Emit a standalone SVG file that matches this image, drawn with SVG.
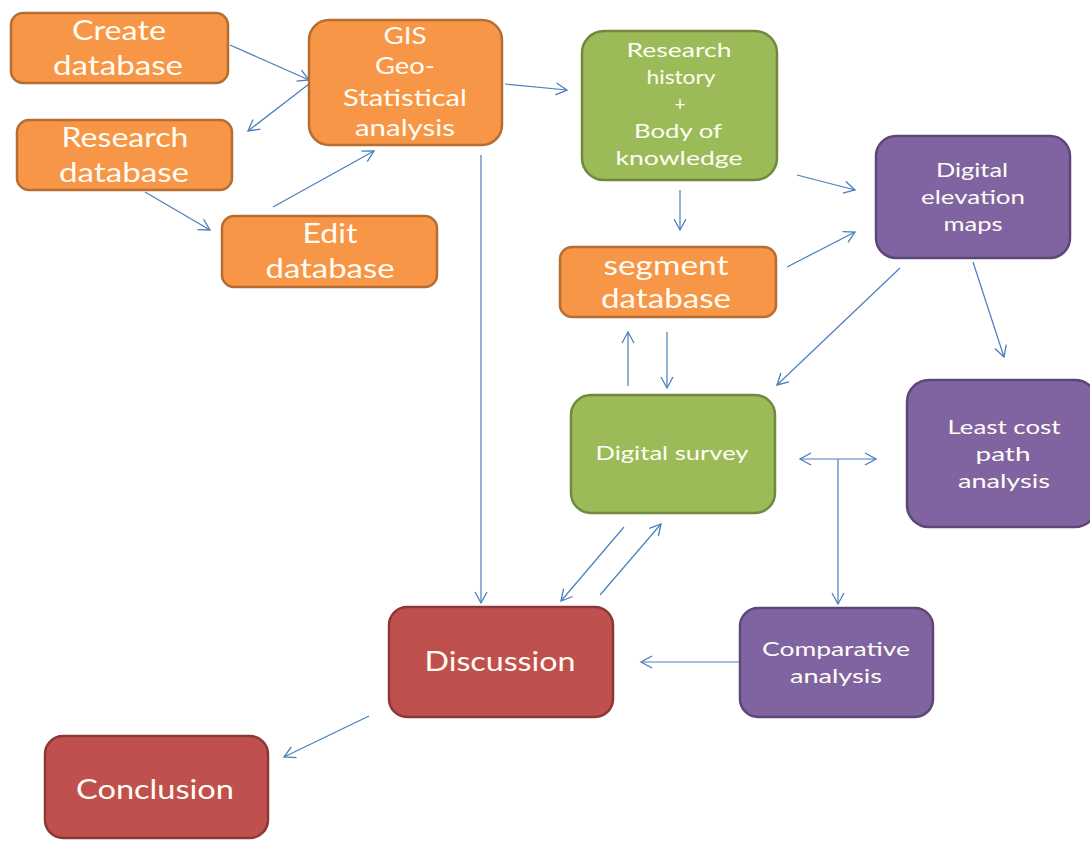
<svg xmlns="http://www.w3.org/2000/svg" width="1090" height="841" viewBox="0 0 1090 841">
<defs>
<marker id="ah" markerUnits="userSpaceOnUse" markerWidth="14" markerHeight="14" refX="12" refY="7" orient="auto-start-reverse" viewBox="0 0 14 14">
<path d="M1,1 L12,7 L1,13" fill="none" stroke="#4A7EBB" stroke-width="1.3"/>
</marker>
</defs>
<style>
.or{fill:#F79646;stroke:#B66D31;stroke-width:2.5}
.gr{fill:#9BBB59;stroke:#71893F;stroke-width:2.5}
.pu{fill:#8064A2;stroke:#5C4776;stroke-width:2.5}
.rd{fill:#C0504D;stroke:#8C3836;stroke-width:2.5}
text{font-family:Lato,"Open Sans","Liberation Sans",sans-serif;fill:#FFFDF5;text-anchor:middle}
.big{font-size:26px}
.mid{font-size:23px}
.sm{font-size:19px}
.c{fill:none;stroke:#4A7EBB;stroke-width:1.2;marker-end:url(#ah)}
</style>
<rect width="1090" height="841" fill="#fff"/>
<g id="connectors">
<line class="c" x1="230" y1="45" x2="309" y2="80"/>
<line class="c" x1="309" y1="84" x2="248" y2="131"/>
<line class="c" x1="145" y1="192" x2="210" y2="230"/>
<line class="c" x1="273" y1="207" x2="374" y2="151"/>
<line class="c" x1="505" y1="84" x2="567" y2="90"/>
<line class="c" x1="481" y1="155" x2="481" y2="603"/>
<line class="c" x1="680" y1="190" x2="680" y2="230"/>
<line class="c" x1="797" y1="175" x2="855" y2="190"/>
<line class="c" x1="787" y1="267" x2="855" y2="232"/>
<line class="c" x1="900" y1="268" x2="777" y2="385"/>
<line class="c" x1="973" y1="262" x2="1004" y2="357"/>
<line class="c" x1="628" y1="386" x2="628" y2="332"/>
<line class="c" x1="667" y1="332" x2="667" y2="388"/>
<line class="c" style="marker-start:url(#ah)" x1="800" y1="459" x2="876" y2="459"/>
<line class="c" x1="838" y1="459" x2="838" y2="604"/>
<line class="c" x1="624" y1="527" x2="561" y2="601"/>
<line class="c" x1="600" y1="595" x2="661" y2="524"/>
<line class="c" x1="740" y1="662" x2="641" y2="662"/>
<line class="c" x1="369" y1="716" x2="284" y2="757"/>
</g>
<g id="create-db"><rect class="or" x="11" y="13" width="217" height="70" rx="12"/><text class="big" x="119" y="40" textLength="94" lengthAdjust="spacingAndGlyphs">Create</text><text class="big" x="118" y="75" textLength="130" lengthAdjust="spacingAndGlyphs">database</text></g>
<g id="research-db"><rect class="or" x="17" y="120" width="215" height="70" rx="12"/><text class="big" x="125" y="147" textLength="127" lengthAdjust="spacingAndGlyphs">Research</text><text class="big" x="124" y="182" textLength="130" lengthAdjust="spacingAndGlyphs">database</text></g>
<g id="gis"><rect class="or" x="309" y="20" width="193" height="125" rx="20"/><text class="mid" x="405" y="44" textLength="43" lengthAdjust="spacingAndGlyphs">GIS</text><text class="mid" x="405" y="74" textLength="60" lengthAdjust="spacingAndGlyphs">Geo-</text><text class="mid" x="405" y="106" textLength="124" lengthAdjust="spacingAndGlyphs">Statistical</text><text class="mid" x="405" y="136" textLength="100" lengthAdjust="spacingAndGlyphs">analysis</text></g>
<g id="edit-db"><rect class="or" x="222" y="216" width="215" height="71" rx="12"/><text class="big" x="330" y="243" textLength="55" lengthAdjust="spacingAndGlyphs">Edit</text><text class="big" x="330" y="278" textLength="129" lengthAdjust="spacingAndGlyphs">database</text></g>
<g id="research-history"><rect class="gr" x="582" y="31" width="195" height="149" rx="22"/><text class="sm" x="679" y="57" textLength="105" lengthAdjust="spacingAndGlyphs">Research</text><text class="sm" x="681" y="84" textLength="69" lengthAdjust="spacingAndGlyphs">history</text><text class="sm" x="680" y="111">+</text><text class="sm" x="678" y="138" textLength="88" lengthAdjust="spacingAndGlyphs">Body of</text><text class="sm" x="679" y="165" textLength="127" lengthAdjust="spacingAndGlyphs">knowledge</text></g>
<g id="segment-db"><rect class="or" x="560" y="247" width="216" height="70" rx="12"/><text class="big" x="666" y="275" textLength="125" lengthAdjust="spacingAndGlyphs">segment</text><text class="big" x="666" y="308" textLength="130" lengthAdjust="spacingAndGlyphs">database</text></g>
<g id="dem"><rect class="pu" x="876" y="136" width="194" height="122" rx="20"/><text class="sm" x="972" y="177" textLength="72" lengthAdjust="spacingAndGlyphs">Digital</text><text class="sm" x="973" y="204" textLength="104" lengthAdjust="spacingAndGlyphs">elevation</text><text class="sm" x="973" y="231" textLength="59" lengthAdjust="spacingAndGlyphs">maps</text></g>
<g id="digital-survey"><rect class="gr" x="571" y="395" width="204" height="118" rx="20"/><text class="sm" x="672" y="460" textLength="153" lengthAdjust="spacingAndGlyphs">Digital survey</text></g>
<g id="least-cost"><rect class="pu" x="907" y="380" width="190" height="147" rx="22"/><text class="sm" x="1004" y="434" textLength="113" lengthAdjust="spacingAndGlyphs">Least cost</text><text class="sm" x="1003" y="461" textLength="55" lengthAdjust="spacingAndGlyphs">path</text><text class="sm" x="1004" y="488" textLength="92" lengthAdjust="spacingAndGlyphs">analysis</text></g>
<g id="comparative"><rect class="pu" x="740" y="608" width="193" height="109" rx="18"/><text class="sm" x="836" y="656" textLength="148" lengthAdjust="spacingAndGlyphs">Comparative</text><text class="sm" x="836" y="683" textLength="92" lengthAdjust="spacingAndGlyphs">analysis</text></g>
<g id="discussion"><rect class="rd" x="389" y="607" width="224" height="110" rx="18"/><text class="big" x="500" y="671" textLength="151" lengthAdjust="spacingAndGlyphs">Discussion</text></g>
<g id="conclusion"><rect class="rd" x="45" y="736" width="223" height="102" rx="18"/><text class="big" x="155" y="799" textLength="158" lengthAdjust="spacingAndGlyphs">Conclusion</text></g>
</svg>
